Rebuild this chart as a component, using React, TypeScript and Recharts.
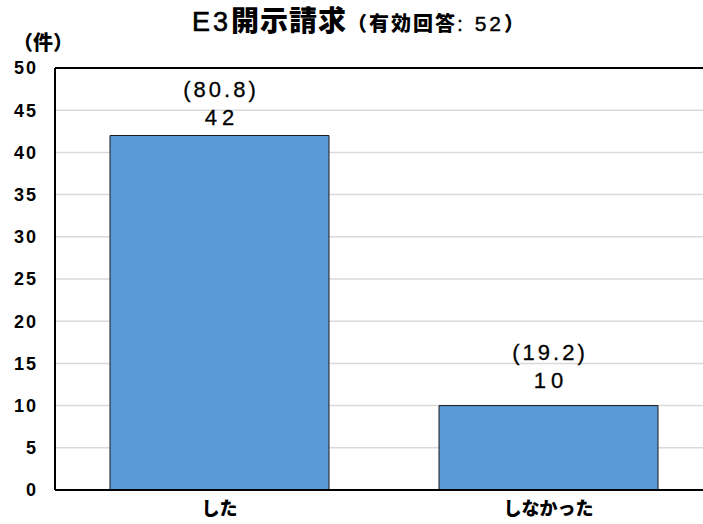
import React from "react";
import { BarChart, Bar, XAxis, YAxis, CartesianGrid, ReferenceLine, LabelList } from "recharts";

const categories = ["した", "しなかった"];
const counts = [42, 10];
const percents = [80.8, 19.2];
const yTicks = [0, 5, 10, 15, 20, 25, 30, 35, 40, 45, 50];
const titleMain = "E3";
const titleCjk = "開示請求";
const titleSubOpen = "（有効回答";
const titleSubNum = ": 52";
const titleSubClose = "）";
const unitLabel = "（件）";

const data = categories.map((c, i) => ({ name: c, value: counts[i], pct: percents[i] }));

const LATIN = "'Liberation Sans', Arial, sans-serif";
const CJK = "'Noto Sans CJK JP', 'Noto Sans CJK SC', sans-serif";

const ValueLabel = (props: any) => {
  const { x, y, width, index, value } = props;
  const cx = x + width / 2;
  const gap = index === 0 ? 18 : 25;
  const vy = y - gap;
  const py = vy - 28;
  return (
    <g>
      <text x={cx + 1.5} y={py} textAnchor="middle" dominantBaseline="central" fontFamily={LATIN} fontSize={22} letterSpacing={3} fill="#000" stroke="#000" strokeWidth={0.3}>
        {`(${percents[index].toFixed(1)})`}
      </text>
      <text x={cx + 2.5} y={vy} textAnchor="middle" dominantBaseline="central" fontFamily={LATIN} fontSize={22} letterSpacing={5} fill="#000" stroke="#000" strokeWidth={0.3}>
        {String(value)}
      </text>
    </g>
  );
};

export default function App() {
  return (
    <div style={{ position: "absolute", left: 0, top: 0, width: 703, height: 524, overflow: "hidden", background: "#fff" }}>
      <div style={{ position: "absolute", left: 0, top: 3, width: 716, textAlign: "center", whiteSpace: "nowrap", color: "#000", lineHeight: "32px" }}>
        <span style={{ fontFamily: LATIN, fontSize: 27, letterSpacing: 3, WebkitTextStroke: "0.6px #000" }}>{titleMain}</span>
        <span style={{ fontFamily: CJK, fontSize: 28, fontWeight: 900, letterSpacing: 1 }}>{titleCjk}</span>
        <span style={{ fontFamily: CJK, fontSize: 20, fontWeight: 900, letterSpacing: 2 }}>{titleSubOpen}</span>
        <span style={{ fontFamily: LATIN, fontSize: 21, letterSpacing: 3, WebkitTextStroke: "0.4px #000" }}>{titleSubNum}</span>
        <span style={{ fontFamily: CJK, fontSize: 20, fontWeight: 900 }}>{titleSubClose}</span>
      </div>
      <div style={{ position: "absolute", left: 13, top: 29, fontFamily: CJK, fontSize: 20, fontWeight: 900, color: "#000", whiteSpace: "nowrap", lineHeight: "26px" }}>
        {unitLabel}
      </div>
      <BarChart width={720} height={524} data={data} margin={{ top: 68, right: 7, bottom: 0, left: 0 }}>
        <CartesianGrid vertical={false} stroke="#d9d9d9" strokeWidth={1.5} />
        <XAxis
          dataKey="name"
          height={34}
          axisLine={{ stroke: "#000", strokeWidth: 2 }}
          tickLine={false}
          tickSize={0}
          tickMargin={12}
          tick={{ fontFamily: CJK, fontSize: 18, fontWeight: 900, fill: "#000" }}
        />
        <YAxis
          width={55}
          domain={[0, 50]}
          ticks={yTicks}
          interval={0}
          axisLine={{ stroke: "#000", strokeWidth: 2 }}
          tickLine={false}
          tickSize={0}
          tickMargin={17}
          tick={{ fontFamily: LATIN, fontSize: 18, fontWeight: 700, fill: "#000", letterSpacing: 2 }}
        />
        <ReferenceLine y={50} stroke="#000" strokeWidth={2} />
        <Bar dataKey="value" fill="#5B9BD5" stroke="#1a1a1a" strokeWidth={1} barSize={219} isAnimationActive={false}>
          <LabelList dataKey="value" content={ValueLabel} />
        </Bar>
      </BarChart>
    </div>
  );
}
